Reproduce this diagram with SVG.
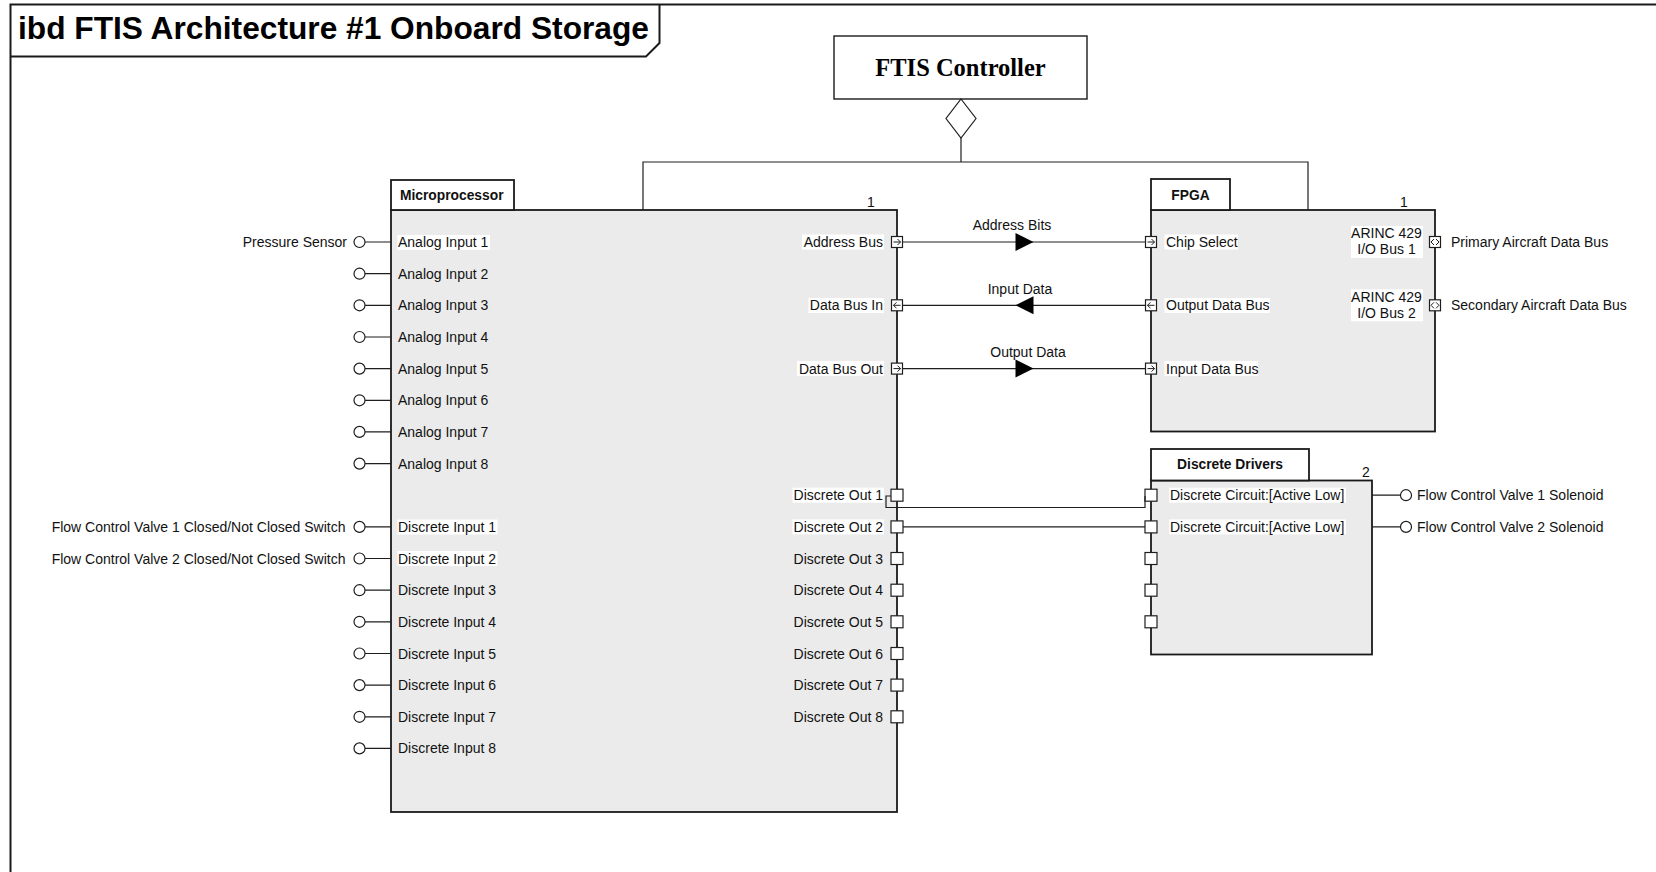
<svg xmlns="http://www.w3.org/2000/svg" width="1656" height="872" viewBox="0 0 1656 872">
  <style>
    .frame { fill: none; stroke: #1a1a1a; stroke-width: 2; }
    .body { fill: #ebebeb; stroke: #1a1a1a; stroke-width: 1.8; }
    .tab { fill: #ffffff; stroke: #1a1a1a; stroke-width: 1.8; }
    .box { fill: #ffffff; stroke: #1a1a1a; stroke-width: 1.4; }
    .wire { fill: none; stroke: #1e1e1e; stroke-width: 1.2; }
    .port { fill: #ffffff; stroke: #1e1e1e; stroke-width: 1.2; }
    .glyph { fill: none; stroke: #1e1e1e; stroke-width: 1; }
    .bg { fill: #ffffff; }
    .head { fill: #000000; }
    text { font-family: "Liberation Sans", Arial, sans-serif; font-size: 14px; fill: #111111; }
    .b { font-weight: bold; font-size: 13.8px; }
    .end { text-anchor: end; }
    .mid { text-anchor: middle; }
    .title { font-size: 31.7px; font-weight: bold; fill: #000000; }
    .serif { font-family: "Liberation Serif", "Times New Roman", serif; font-size: 24.5px; font-weight: bold; fill: #000000; }
  </style>
  <defs>
    <circle id="pin" r="5.5" class="port"/>
    <rect id="sq" x="-6" y="-6" width="12" height="12" class="port"/>
    <g id="fpR">
      <rect x="-5.5" y="-5.5" width="11" height="11" class="port"/>
      <path d="M-3.5 0H3.5M0.5 -3L3.5 0L0.5 3" class="glyph"/>
    </g>
    <g id="fpL">
      <rect x="-5.5" y="-5.5" width="11" height="11" class="port"/>
      <path d="M3.5 0H-3.5M-0.5 -3L-3.5 0L-0.5 3" class="glyph"/>
    </g>
    <g id="fpB">
      <rect x="-5.5" y="-5.5" width="11" height="11" class="port"/>
      <path d="M-1 -3L-4 0L-1 3M1 -3L4 0L1 3" class="glyph"/>
    </g>
  </defs>

  <rect width="1656" height="872" fill="#ffffff"/>

  <!-- diagram frame and title tab -->
  <g id="frame">
    <path class="frame" d="M10.5 872V4.5H1656"/>
    <path class="frame" d="M10.5 56.5H646L659.5 43V4.5"/>
    <text x="18" y="39" class="title">ibd FTIS Architecture #1 Onboard Storage</text>
  </g>

  <!-- controller block -->
  <g id="ftis-controller">
    <rect x="834" y="36" width="253" height="63" class="box"/>
    <text x="960.5" y="76" class="serif mid">FTIS Controller</text>
  </g>

  <!-- Microprocessor part -->
  <g id="microprocessor">
    <rect x="391" y="210" width="506" height="602" class="body"/>
    <rect x="391" y="180" width="123" height="30" class="tab"/>
    <text x="400" y="199.5" class="b">Microprocessor</text>
    <text x="871" y="207" class="mid">1</text>

    <!-- inputs -->
    <rect x="397.5" y="235" width="92.5" height="15" class="bg"/>
    <text x="398" y="247">Analog Input 1</text>
    <text x="398" y="278.7">Analog Input 2</text>
    <text x="398" y="310.3">Analog Input 3</text>
    <text x="398" y="342">Analog Input 4</text>
    <text x="398" y="373.6">Analog Input 5</text>
    <text x="398" y="405.3">Analog Input 6</text>
    <text x="398" y="436.9">Analog Input 7</text>
    <text x="398" y="468.6">Analog Input 8</text>
    <rect x="397.5" y="519.5" width="100" height="15" class="bg"/>
    <rect x="397.5" y="551" width="100" height="15" class="bg"/>
    <text x="398" y="531.9">Discrete Input 1</text>
    <text x="398" y="563.5">Discrete Input 2</text>
    <text x="398" y="595.2">Discrete Input 3</text>
    <text x="398" y="626.8">Discrete Input 4</text>
    <text x="398" y="658.5">Discrete Input 5</text>
    <text x="398" y="690.1">Discrete Input 6</text>
    <text x="398" y="721.8">Discrete Input 7</text>
    <text x="398" y="753.4">Discrete Input 8</text>

    <!-- outputs -->
    <rect x="802" y="234.5" width="82" height="15" class="bg"/>
    <rect x="808.5" y="298" width="75.5" height="15" class="bg"/>
    <rect x="797" y="361" width="87" height="15" class="bg"/>
    <text x="883" y="247" class="end">Address Bus</text>
    <text x="883" y="310.3" class="end">Data Bus In</text>
    <text x="883" y="373.6" class="end">Data Bus Out</text>
    <rect x="792.5" y="487.7" width="91.5" height="15" class="bg"/>
    <rect x="792.5" y="519.4" width="91.5" height="15" class="bg"/>
    <text x="883" y="500.2" class="end">Discrete Out 1</text>
    <text x="883" y="531.9" class="end">Discrete Out 2</text>
    <text x="883" y="563.5" class="end">Discrete Out 3</text>
    <text x="883" y="595.2" class="end">Discrete Out 4</text>
    <text x="883" y="626.8" class="end">Discrete Out 5</text>
    <text x="883" y="658.5" class="end">Discrete Out 6</text>
    <text x="883" y="690.1" class="end">Discrete Out 7</text>
    <text x="883" y="721.8" class="end">Discrete Out 8</text>

    <use href="#fpR" x="897" y="242"/>
    <use href="#fpL" x="897" y="305.3"/>
    <use href="#fpR" x="897" y="368.6"/>
    <use href="#sq" x="897" y="495.2"/>
    <use href="#sq" x="897" y="526.9"/>
    <use href="#sq" x="897" y="558.5"/>
    <use href="#sq" x="897" y="590.2"/>
    <use href="#sq" x="897" y="621.8"/>
    <use href="#sq" x="897" y="653.5"/>
    <use href="#sq" x="897" y="685.1"/>
    <use href="#sq" x="897" y="716.8"/>
  </g>

  <!-- FPGA part -->
  <g id="fpga">
    <rect x="1151" y="210" width="284" height="221.5" class="body"/>
    <rect x="1151" y="179" width="79" height="31" class="tab"/>
    <text x="1190.5" y="199.5" class="b mid">FPGA</text>
    <text x="1404" y="207" class="mid">1</text>

    <rect x="1164.5" y="234.5" width="73.5" height="15" class="bg"/>
    <rect x="1164.5" y="298" width="105.5" height="15" class="bg"/>
    <rect x="1164.5" y="361" width="93.5" height="15" class="bg"/>
    <text x="1166" y="247">Chip Select</text>
    <text x="1166" y="310.3">Output Data Bus</text>
    <text x="1166" y="373.6">Input Data Bus</text>

    <rect x="1351" y="226" width="72" height="32" class="bg"/>
    <text x="1386.5" y="238.3" class="mid">ARINC 429</text>
    <text x="1386.5" y="254.2" class="mid">I/O Bus 1</text>
    <rect x="1351" y="289.3" width="72" height="32" class="bg"/>
    <text x="1386.5" y="301.6" class="mid">ARINC 429</text>
    <text x="1386.5" y="317.5" class="mid">I/O Bus 2</text>

    <use href="#fpR" x="1151" y="242"/>
    <use href="#fpL" x="1151" y="305.3"/>
    <use href="#fpR" x="1151" y="368.6"/>
    <use href="#fpB" x="1435" y="242"/>
    <use href="#fpB" x="1435" y="305.3"/>

    <text x="1451" y="247">Primary Aircraft Data Bus</text>
    <text x="1451" y="310.3">Secondary Aircraft Data Bus</text>
  </g>

  <!-- Discrete Drivers part -->
  <g id="discrete-drivers">
    <rect x="1151" y="480.5" width="221" height="174" class="body"/>
    <rect x="1151" y="449" width="158" height="31.5" class="tab"/>
    <text x="1230" y="469" class="b mid">Discrete Drivers</text>
    <text x="1366" y="477" class="mid">2</text>

    <rect x="1169" y="487.7" width="177" height="15" class="bg"/>
    <rect x="1169" y="519.4" width="177" height="15" class="bg"/>
    <text x="1170" y="500.2">Discrete Circuit:[Active Low]</text>
    <text x="1170" y="531.9">Discrete Circuit:[Active Low]</text>

    <use href="#sq" x="1151" y="495.2"/>
    <use href="#sq" x="1151" y="526.9"/>
    <use href="#sq" x="1151" y="558.5"/>
    <use href="#sq" x="1151" y="590.2"/>
    <use href="#sq" x="1151" y="621.8"/>

    <text x="1417" y="500.2">Flow Control Valve 1 Solenoid</text>
    <text x="1417" y="531.9">Flow Control Valve 2 Solenoid</text>
  </g>

  <!-- external signal sources -->
  <g id="external-sources">
    <text x="347" y="247" class="end">Pressure Sensor</text>
    <text x="345.5" y="531.9" class="end">Flow Control Valve 1 Closed/Not Closed Switch</text>
    <text x="345.5" y="563.5" class="end">Flow Control Valve 2 Closed/Not Closed Switch</text>
  </g>

  <!-- connectors -->
  <g id="connectors">
    <!-- composition from the controller -->
    <path class="wire" d="M961 138V162M643 210V162H1308V210"/>
    <path d="M961 99L976 118.5L961 138L946 118.5Z" class="port"/>

    <!-- item flows between Microprocessor and FPGA -->
    <path class="wire" d="M902.5 242H1145.5"/>
    <path class="head" d="M1015.5 233L1033.5 242L1015.5 251Z"/>
    <text x="1012" y="230" class="mid">Address Bits</text>

    <path class="wire" d="M902.5 305.3H1145.5"/>
    <path class="head" d="M1033.5 296.3L1015.5 305.3L1033.5 314.3Z"/>
    <text x="1020" y="293.5" class="mid">Input Data</text>

    <path class="wire" d="M902.5 368.6H1145.5"/>
    <path class="head" d="M1015.5 359.6L1033.5 368.6L1015.5 377.6Z"/>
    <text x="1028" y="356.7" class="mid">Output Data</text>

    <!-- discrete outputs to drivers -->
    <path class="wire" d="M891 496H886V507.5H1145V496"/>
    <path class="wire" d="M903 526.9H1145"/>

    <!-- driver outputs to solenoids -->
    <path class="wire" d="M1372 495.2H1400.5M1372 526.9H1400.5"/>
    <use href="#pin" x="1406" y="495.2"/>
    <use href="#pin" x="1406" y="526.9"/>

    <!-- input pins -->
    <path class="wire" d="M365 242H391M365 273.7H391M365 305.3H391M365 337H391M365 368.6H391M365 400.3H391M365 431.9H391M365 463.6H391"/>
    <path class="wire" d="M365 526.9H391M365 558.5H391M365 590.2H391M365 621.8H391M365 653.5H391M365 685.1H391M365 716.8H391M365 748.4H391"/>
    <use href="#pin" x="359.5" y="242"/>
    <use href="#pin" x="359.5" y="273.7"/>
    <use href="#pin" x="359.5" y="305.3"/>
    <use href="#pin" x="359.5" y="337"/>
    <use href="#pin" x="359.5" y="368.6"/>
    <use href="#pin" x="359.5" y="400.3"/>
    <use href="#pin" x="359.5" y="431.9"/>
    <use href="#pin" x="359.5" y="463.6"/>
    <use href="#pin" x="359.5" y="526.9"/>
    <use href="#pin" x="359.5" y="558.5"/>
    <use href="#pin" x="359.5" y="590.2"/>
    <use href="#pin" x="359.5" y="621.8"/>
    <use href="#pin" x="359.5" y="653.5"/>
    <use href="#pin" x="359.5" y="685.1"/>
    <use href="#pin" x="359.5" y="716.8"/>
    <use href="#pin" x="359.5" y="748.4"/>
  </g>
</svg>
